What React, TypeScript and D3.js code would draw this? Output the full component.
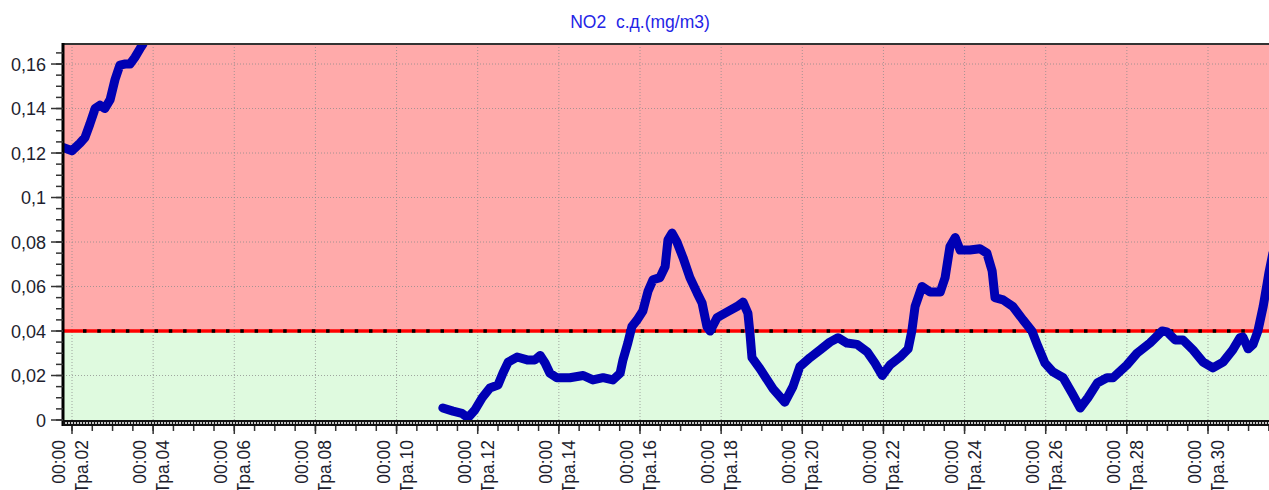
import React from "react";
import * as d3 from "d3";

const width = 1269;
const height = 490;

const title = "NO2  с.д.(mg/m3)";
const limit = 0.04;

// days of May (fractional) and NO2 values; null marks the gap in the record
const days = [
  1.78, 2.0, 2.2, 2.32, 2.44, 2.57, 2.69, 2.81, 2.94, 3.06, 3.18, 3.31, 3.43, 3.55, 3.68, 3.75, 3.85,
  7.0,
  11.14, 11.39, 11.61, 11.76, 11.93, 12.11, 12.3, 12.5, 12.62, 12.75, 12.97, 13.22, 13.41, 13.54, 13.66,
  13.78, 13.95, 14.27, 14.6, 14.84, 15.09, 15.33, 15.51, 15.58, 15.7, 15.8, 15.93, 16.07, 16.2, 16.32,
  16.49, 16.62, 16.69, 16.79, 16.91, 17.06, 17.23, 17.41, 17.53, 17.65, 17.73, 17.9, 18.14, 18.39, 18.54,
  18.66, 18.71, 18.76, 18.96, 19.28, 19.57, 19.77, 19.94, 20.19, 20.44, 20.68, 20.88, 21.1, 21.35, 21.6,
  21.79, 21.97, 22.16, 22.41, 22.61, 22.7, 22.78, 22.95, 23.15, 23.4, 23.52, 23.64, 23.77, 23.89, 24.13,
  24.38, 24.55, 24.68, 24.75, 24.95, 25.19, 25.44, 25.66, 25.81, 25.98, 26.18, 26.43, 26.65, 26.85,
  27.04, 27.27, 27.51, 27.66, 28.0, 28.25, 28.57, 28.87, 28.99, 29.19, 29.38, 29.63, 29.88, 30.12,
  30.37, 30.61, 30.79, 30.86, 30.99, 31.11, 31.23, 31.36, 31.46, 31.5, 31.6,
];
const values = [
  0.1225, 0.121, 0.1245, 0.127, 0.133, 0.14, 0.1415, 0.14, 0.144, 0.153, 0.1595, 0.16, 0.16, 0.163, 0.167, 0.169, 0.175,
  null,
  0.0054, 0.004, 0.003, 0.001, 0.0045, 0.01, 0.0144, 0.0157, 0.021, 0.026, 0.0283, 0.027, 0.027, 0.029, 0.0256,
  0.021, 0.019, 0.019, 0.02, 0.018, 0.019, 0.018, 0.021, 0.027, 0.0346, 0.042, 0.045, 0.049, 0.058, 0.063,
  0.064, 0.069, 0.081, 0.084, 0.08, 0.073, 0.064, 0.057, 0.0526, 0.042, 0.04, 0.046, 0.0485, 0.051, 0.053,
  0.048, 0.039, 0.028, 0.023, 0.014, 0.008, 0.015, 0.024, 0.028, 0.0315, 0.035, 0.037, 0.0346, 0.034, 0.0306,
  0.0256, 0.02, 0.0247, 0.0283, 0.032, 0.04, 0.051, 0.06, 0.0575, 0.0575, 0.064, 0.078, 0.082, 0.0764, 0.0764,
  0.077, 0.075, 0.067, 0.055, 0.054, 0.051, 0.045, 0.04, 0.033, 0.0256, 0.0216, 0.019, 0.012, 0.0054,
  0.01, 0.0166, 0.019, 0.019, 0.0247, 0.03, 0.0346, 0.04, 0.0396, 0.036, 0.036, 0.0315, 0.026, 0.0234,
  0.026, 0.0315, 0.037, 0.0373, 0.032, 0.034, 0.04, 0.051, 0.0616, 0.066, 0.075,
];

const xTickDays = [2, 4, 6, 8, 10, 12, 14, 16, 18, 20, 22, 24, 26, 28, 30];
const xTickLabels = [
  "Тра.02", "Тра.04", "Тра.06", "Тра.08", "Тра.10", "Тра.12", "Тра.14", "Тра.16",
  "Тра.18", "Тра.20", "Тра.22", "Тра.24", "Тра.26", "Тра.28", "Тра.30",
];
const yTicks = [0, 0.02, 0.04, 0.06, 0.08, 0.1, 0.12, 0.14, 0.16];
const yTickLabels = ["0", "0,02", "0,04", "0,06", "0,08", "0,1", "0,12", "0,14", "0,16"];

const left = 63;
const top = 44;
const bottom = 420;
const right = 1300;

const x = d3.scaleLinear().domain([2, 30]).range([72, 1208]);
const y = d3.scaleLinear().domain([0, 0.169]).range([bottom, top]);

const font = "Arial, 'Liberation Sans', sans-serif";

const App = () => {
  const pts = days.map((d, i) => [d, values[i]] as [number, number | null]);
  const line = d3
    .line<[number, number | null]>()
    .defined((d) => d[1] !== null)
    .x((d) => x(d[0]))
    .y((d) => y(d[1] as number));

  const minorX = d3.range(1.5, 32, 0.5).filter((d) => x(d) > left + 2);
  const minorY = d3.range(0, 0.1691, 0.005);
  const yLim = y(limit);

  return (
    <svg
      width={width}
      height={height}
      style={{ position: "absolute", left: 0, top: 0, background: "#fff" }}
      fontFamily={font}
    >
      <defs>
        <clipPath id="plot">
          <rect x={left} y={top} width={right - left} height={bottom - top} />
        </clipPath>
      </defs>

      <text
        x={640}
        y={28}
        textAnchor="middle"
        fontSize={17.5}
        fill="#2424e6"
        style={{ whiteSpace: "pre" }}
      >
        {title}
      </text>

      {/* zones */}
      <rect x={left} y={top} width={right - left} height={yLim - top} fill="#ffaaaa" />
      <rect x={left} y={yLim} width={right - left} height={bottom - yLim} fill="#dffadf" />

      {/* grid */}
      <g stroke="#8a8a8a" strokeDasharray="1 2" strokeOpacity={0.75}>
        {xTickDays.map((d) => (
          <line key={d} x1={x(d)} x2={x(d)} y1={top} y2={bottom} />
        ))}
        {yTicks.slice(1).map((v) => (
          <line key={v} x1={left} x2={right} y1={y(v)} y2={y(v)} />
        ))}
      </g>

      {/* limit line */}
      <line x1={left} x2={right} y1={yLim} y2={yLim} stroke="#ff0000" strokeWidth={3.5} />
      <line
        x1={left + 20}
        x2={right}
        y1={yLim}
        y2={yLim}
        stroke="#000"
        strokeWidth={3.5}
        strokeDasharray="3.5 10.8"
      />

      <g clipPath="url(#plot)">
        <path
          d={line(pts) || ""}
          fill="none"
          stroke="#0000b4"
          strokeWidth={9}
          strokeLinejoin="round"
          strokeLinecap="round"
        />
      </g>

      {/* frame */}
      <line x1={left} x2={right} y1={top} y2={top} stroke="#333" strokeWidth={2} />
      <line x1={left} x2={left} y1={top - 1} y2={bottom + 6} stroke="#000" strokeWidth={3} />
      <rect x={left} y={bottom} width={right - left} height={6} fill="#111" />
      <line
        x1={left + 2}
        x2={right}
        y1={bottom + 3}
        y2={bottom + 3}
        stroke="#fff"
        strokeWidth={1.5}
        strokeDasharray="2 1"
      />

      {/* y axis */}
      <g stroke="#333" strokeWidth={1.5}>
        {minorY.map((v) => (
          <line key={v} x1={56} x2={left} y1={y(v)} y2={y(v)} />
        ))}
        {yTicks.map((v) => (
          <line key={"m" + v} x1={51} x2={left} y1={y(v)} y2={y(v)} />
        ))}
      </g>
      <g fontSize={18} fill="#1e1e2e" textAnchor="end">
        {yTicks.map((v, i) => (
          <text key={v} x={46} y={y(v) + 6.5}>
            {yTickLabels[i]}
          </text>
        ))}
      </g>

      {/* x axis */}
      <g stroke="#333" strokeWidth={1.5}>
        {minorX.map((d) => (
          <line key={d} x1={x(d)} x2={x(d)} y1={bottom + 6} y2={bottom + 11} />
        ))}
        {xTickDays.map((d) => (
          <line key={"m" + d} x1={x(d)} x2={x(d)} y1={bottom + 6} y2={bottom + 14} />
        ))}
      </g>
      <g fontSize={17.5} fill="#1e1e2e" textAnchor="end">
        {xTickDays.map((d, i) => (
          <text key={d} transform={`translate(${x(d)},440) rotate(-90)`}>
            <tspan x={0} y={-7}>
              00:00
            </tspan>
            <tspan x={0} y={16}>
              {xTickLabels[i]}
            </tspan>
          </text>
        ))}
      </g>
    </svg>
  );
};

export default App;
